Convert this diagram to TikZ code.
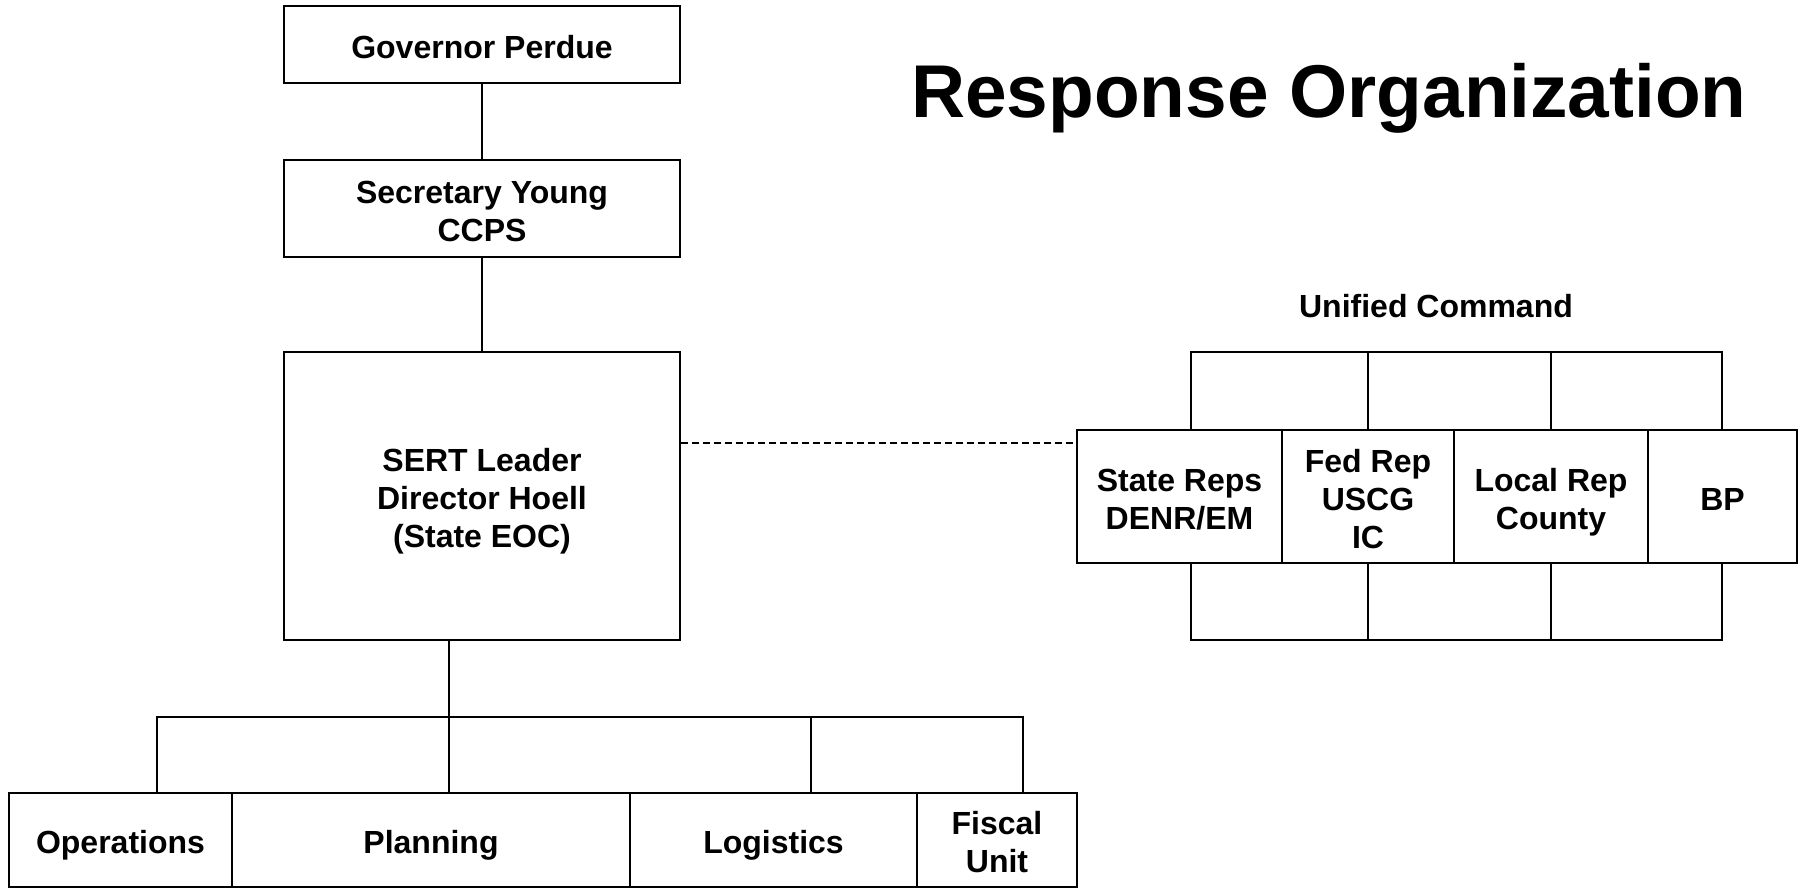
\documentclass[tikz,border=0pt]{standalone}
\usepackage{fontspec}
\setmainfont{Liberation Sans}
\usepackage{tikz}

\tikzset{
  orgbox/.style={draw, line width=1.3pt, inner sep=0pt, align=center,
    font=\fontsize{16}{19}\selectfont\bfseries,
    execute at begin node={\rule{0pt}{\dimexpr19pt*#1-1.5pt\relax}},
    execute at end node={\rule[-4pt]{0pt}{4pt}}},
  orgbox/.default=1,
  link/.style={line width=1.1pt},
}

\begin{document}
\begin{tikzpicture}[x=0.5pt, y=-0.5pt]
    \useasboundingbox (0,0) rectangle (1806,889);

    % Title
    \node[anchor=base, font=\fontsize{37.4}{44}\selectfont\bfseries] (title) at (1329,117) {Response Organization};
    \node[anchor=base, font=\fontsize{16}{19}\selectfont\bfseries] (uc) at (1436,317) {Unified Command};

    % Chain of command
    \node[orgbox, minimum width=198pt, minimum height=38.5pt] (gov) at (482,44.5) {Governor Perdue};
    \node[orgbox=2, minimum width=198pt, minimum height=48.5pt] (sec) at (482,208.5) {Secretary Young\\CCPS};
    \node[orgbox=3, minimum width=198pt, minimum height=144pt] (sert) at (482,496) {SERT Leader\\Director Hoell\\(State EOC)};
    \draw[link] (gov) -- (sec);
    \draw[link] (sec) -- (sert);

    % Sections
    \node[orgbox, minimum width=111.5pt, minimum height=47pt] (ops) at (120.5,840) {Operations};
    \node[orgbox, minimum width=199pt, minimum height=47pt] (plan) at (431,840) {Planning};
    \node[orgbox, minimum width=143.5pt, minimum height=47pt] (logi) at (773.5,840) {Logistics};
    \node[orgbox=2, minimum width=80pt, minimum height=47pt] (fisc) at (997,840) {Fiscal\\Unit};
    \coordinate (d1) at (157,717);
    \coordinate (d2) at (449,717);
    \coordinate (d3) at (811,717);
    \coordinate (d4) at (1023,717);
    \draw[link] (ops.north -| d1) |- (d4) -- (fisc.north -| d4);
    \draw[link] (sert.south -| d2) -- (plan.north -| d2);
    \draw[link] (d3) -- (logi.north -| d3);

    % Unified Command
    \node[orgbox=2, minimum width=102.5pt, minimum height=66.5pt] (st) at (1179.5,496.5) {State Reps\\DENR/EM};
    \node[orgbox=3, minimum width=86pt, minimum height=66.5pt] (fed) at (1368,496.5) {Fed Rep\\USCG\\IC};
    \node[orgbox=2, minimum width=97pt, minimum height=66.5pt] (loc) at (1551,496.5) {Local Rep\\County};
    \node[orgbox, minimum width=74.5pt, minimum height=66.5pt] (bp) at (1722.5,496.5) {BP};
    \coordinate (u1) at (1191,352);
    \coordinate (u4) at (1722,352);
    \coordinate (l1) at (1191,640);
    \coordinate (l4) at (1722,640);
    \draw[link] (st.north -| u1) |- (u4) -- (bp.north -| u4);
    \draw[link] (st.south -| l1) |- (l4) -- (bp.south -| l4);
    \foreach \n in {fed,loc}
        \draw[link] (\n.north |- u1) -- (\n.north) (\n.south) -- (\n.south |- l1);

    % Dashed link
    \coordinate (dl) at (0,443);
    \draw[link, dash pattern=on 3.5pt off 2pt] (sert.east |- dl) -- (st.west |- dl);
\end{tikzpicture}
\end{document}
